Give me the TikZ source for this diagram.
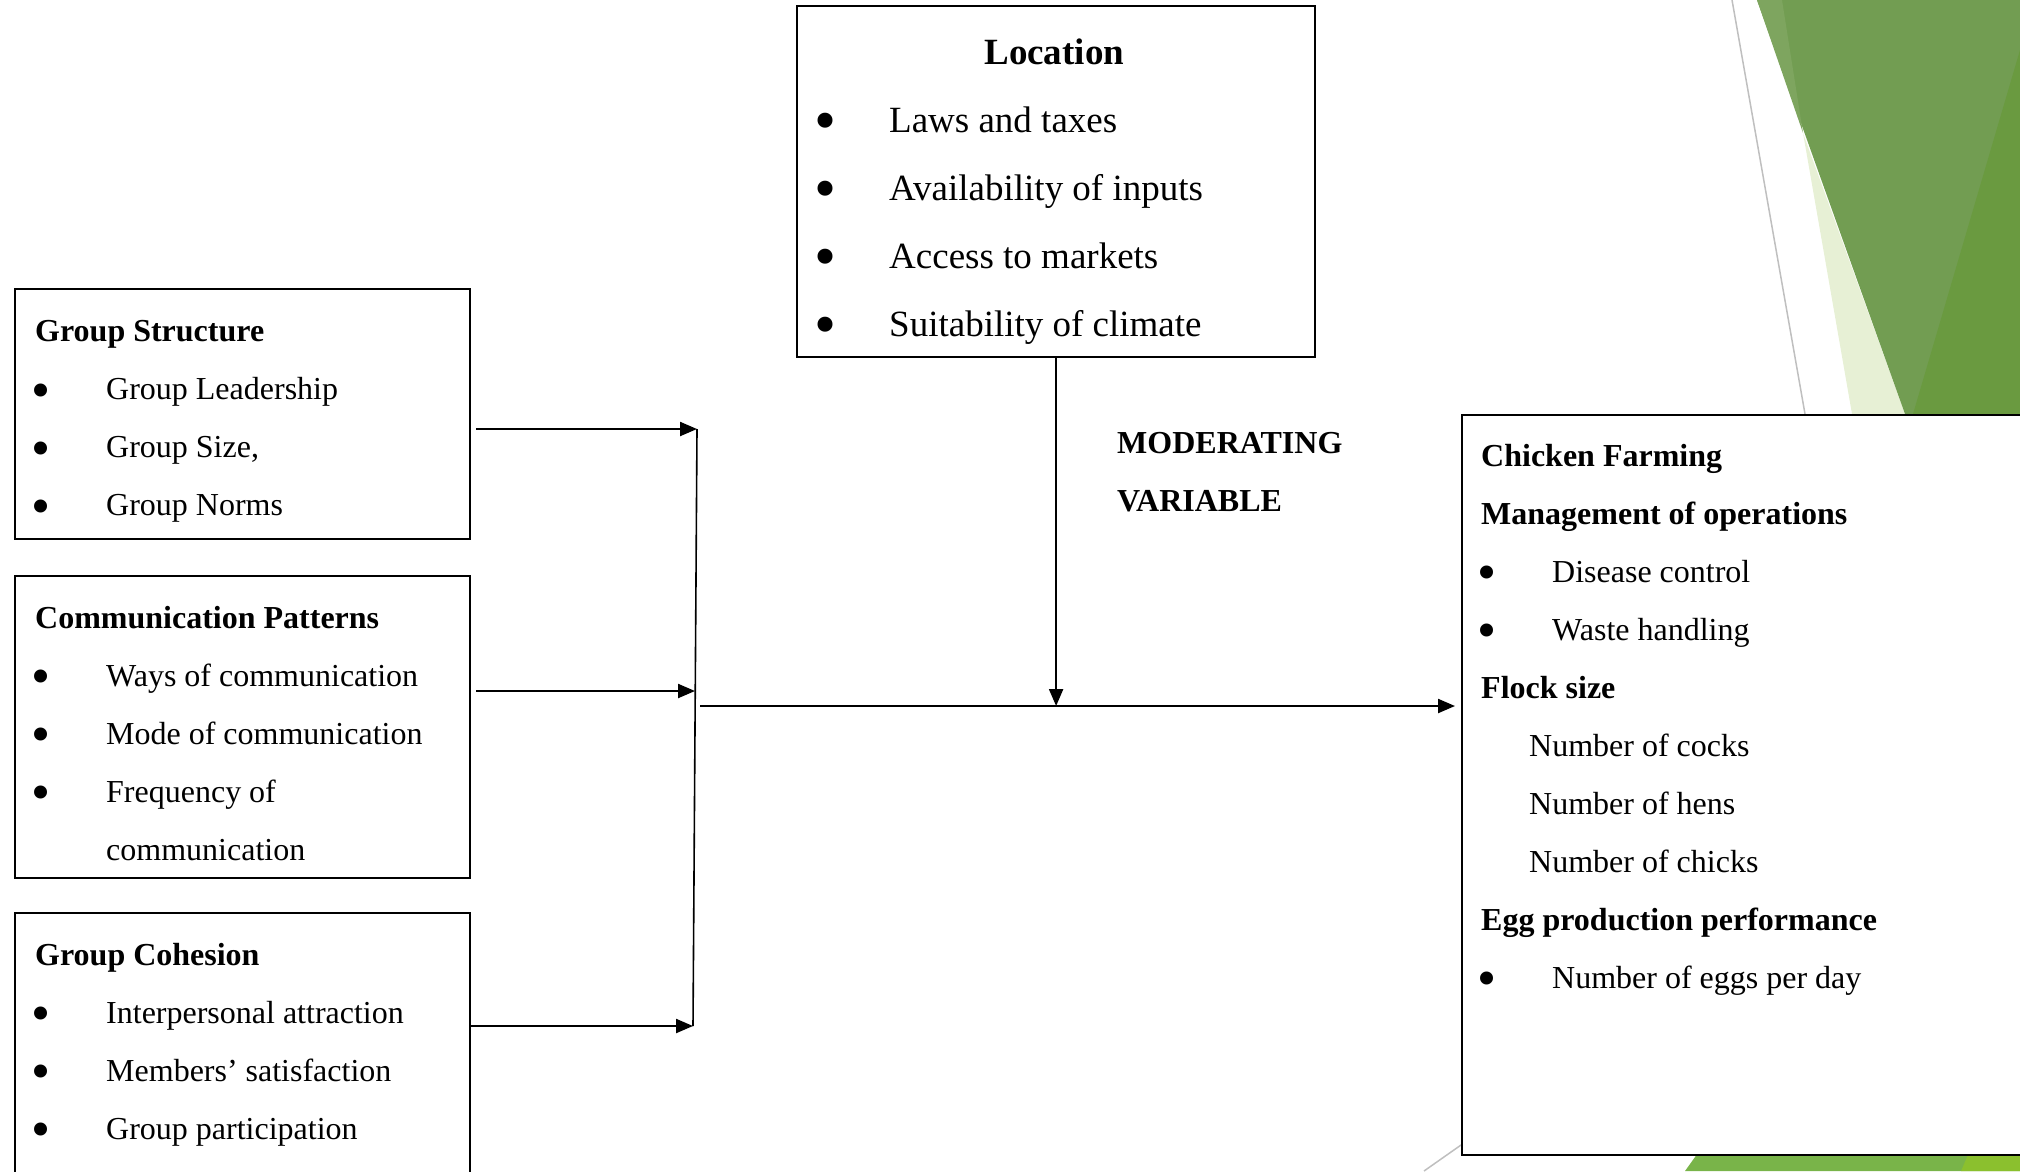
\documentclass[tikz,border=0pt]{standalone}
\usepackage{fontspec}
\usepackage{graphicx}
\setmainfont{Liberation Serif}
\usetikzlibrary{arrows.meta}

\definecolor{leafgreen}{HTML}{729D52}
\definecolor{darkleaf}{HTML}{6A9A40}
\definecolor{paleleaf}{HTML}{E7F0D5}
\definecolor{limeleaf}{HTML}{79B449}
\definecolor{brightleaf}{HTML}{8BC02E}
\definecolor{rulegray}{HTML}{BFBFBF}

\newcommand{\itm}[1]{\makebox[71pt][l]{\hspace*{-3.5pt}\raisebox{-0.26em}{\scalebox{1.7}{\textbullet}}}#1}

\begin{document}
\begin{tikzpicture}[x=1pt, y=-1pt, >={Triangle[length=17pt, width=14pt]},
  box/.style={draw, line width=2.2pt, fill=white, anchor=north west, inner sep=0pt},
  txt/.style={anchor=north west, inner sep=0pt, align=left, font=\fontsize{32}{58}\selectfont},
  bigtxt/.style={txt, font=\fontsize{37}{68}\selectfont},
  link/.style={->, line width=2.2pt}]

\useasboundingbox (0,0) rectangle (2020,1171);
\clip (0,0) rectangle (2020,1171);

% slide decoration
\fill[paleleaf] (1803,133) -- (1852,414) -- (1905,414) -- cycle;
\fill[leafgreen] (1757,0) -- (2020,0) -- (2020,414) -- (1905,414) -- cycle;
\fill[leafgreen!90!paleleaf] (1757,0) -- (1782,0) -- (1803,133) -- cycle;
\fill[darkleaf] (2020,50) -- (1913,414) -- (2020,414) -- cycle;
\draw[rulegray, line width=1.5pt] (1732,0) -- (1805,414);
\fill[limeleaf] (1685,1171) -- (1700,1150) -- (2020,1150) -- (2020,1171) -- cycle;
\fill[brightleaf] (1961,1171) -- (1970,1150) -- (2020,1150) -- (2020,1171) -- cycle;
\draw[rulegray, line width=1.5pt] (1424,1171) -- (1461,1145);

% boxes
\node[box, minimum width=455pt, minimum height=250pt] (gs) at (14,288) {};
\node[box, minimum width=455pt, minimum height=302pt] (cp) at (14,575) {};
\node[box, minimum width=455pt, minimum height=300pt] (gc) at (14,912) {};
\node[box, minimum width=518pt, minimum height=351pt] (loc) at (796,5) {};
\node[box, minimum width=600pt, minimum height=740pt] (cf) at (1461,414) {};

\node[txt] (gs-t) at ([xshift=21pt, yshift=-12.9pt]gs.north west)
  {\strut\textbf{Group Structure}\\
   \itm{Group Leadership}\\
   \itm{Group Size,}\\
   \itm{Group Norms}};
\node[txt] (cp-t) at ([xshift=21pt, yshift=-12.4pt]cp.north west)
  {\strut\textbf{Communication Patterns}\\
   \itm{Ways of communication}\\
   \itm{Mode of communication}\\
   \itm{Frequency of}\\
   \hspace*{71pt}communication};
\node[txt] (gc-t) at ([xshift=21pt, yshift=-12.4pt]gc.north west)
  {\strut\textbf{Group Cohesion}\\
   \itm{Interpersonal attraction}\\
   \itm{Members’ satisfaction}\\
   \itm{Group participation}};
\node[bigtxt] (loc-t) at ([xshift=22pt, yshift=-11.4pt]loc.north west)
  {\strut\makebox[472pt]{\textbf{Location}}\\
   \itm{Laws and taxes}\\
   \itm{Availability of inputs}\\
   \itm{Access to markets}\\
   \itm{Suitability of climate}};
\node[txt] (cf-t) at ([xshift=20pt, yshift=-11.4pt]cf.north west)
  {\strut\textbf{Chicken Farming}\\
   \textbf{Management of operations}\\
   \itm{Disease control}\\
   \itm{Waste handling}\\
   \textbf{Flock size}\\
   \hspace*{48pt}Number of cocks\\
   \hspace*{48pt}Number of hens\\
   \hspace*{48pt}Number of chicks\\
   \textbf{Egg production performance}\\
   \itm{Number of eggs per day}};
\node[txt, font=\fontsize{32}{58}\selectfont\bfseries] (mod) at (1117,412.4)
  {\strut MODERATING\\VARIABLE};

% connectors
\coordinate (j1) at (697,429);
\coordinate (j2) at (695,691);
\coordinate (j3) at (693,1026);
\coordinate (m0) at (700,706);

\draw[line width=1.6pt] (j1) -- (j3);
\draw[link, shorten <=5pt] (gs.east |- j1) -- (j1);
\draw[link, shorten <=5pt] (cp.east |- j2) -- (j2);
\draw[link] (gc.east |- j3) -- (j3);
\draw[link, shorten >=6pt] (m0) -- (cf.west |- m0);
\draw[link] (loc.south) -- (loc.south |- m0);

\end{tikzpicture}
\end{document}
